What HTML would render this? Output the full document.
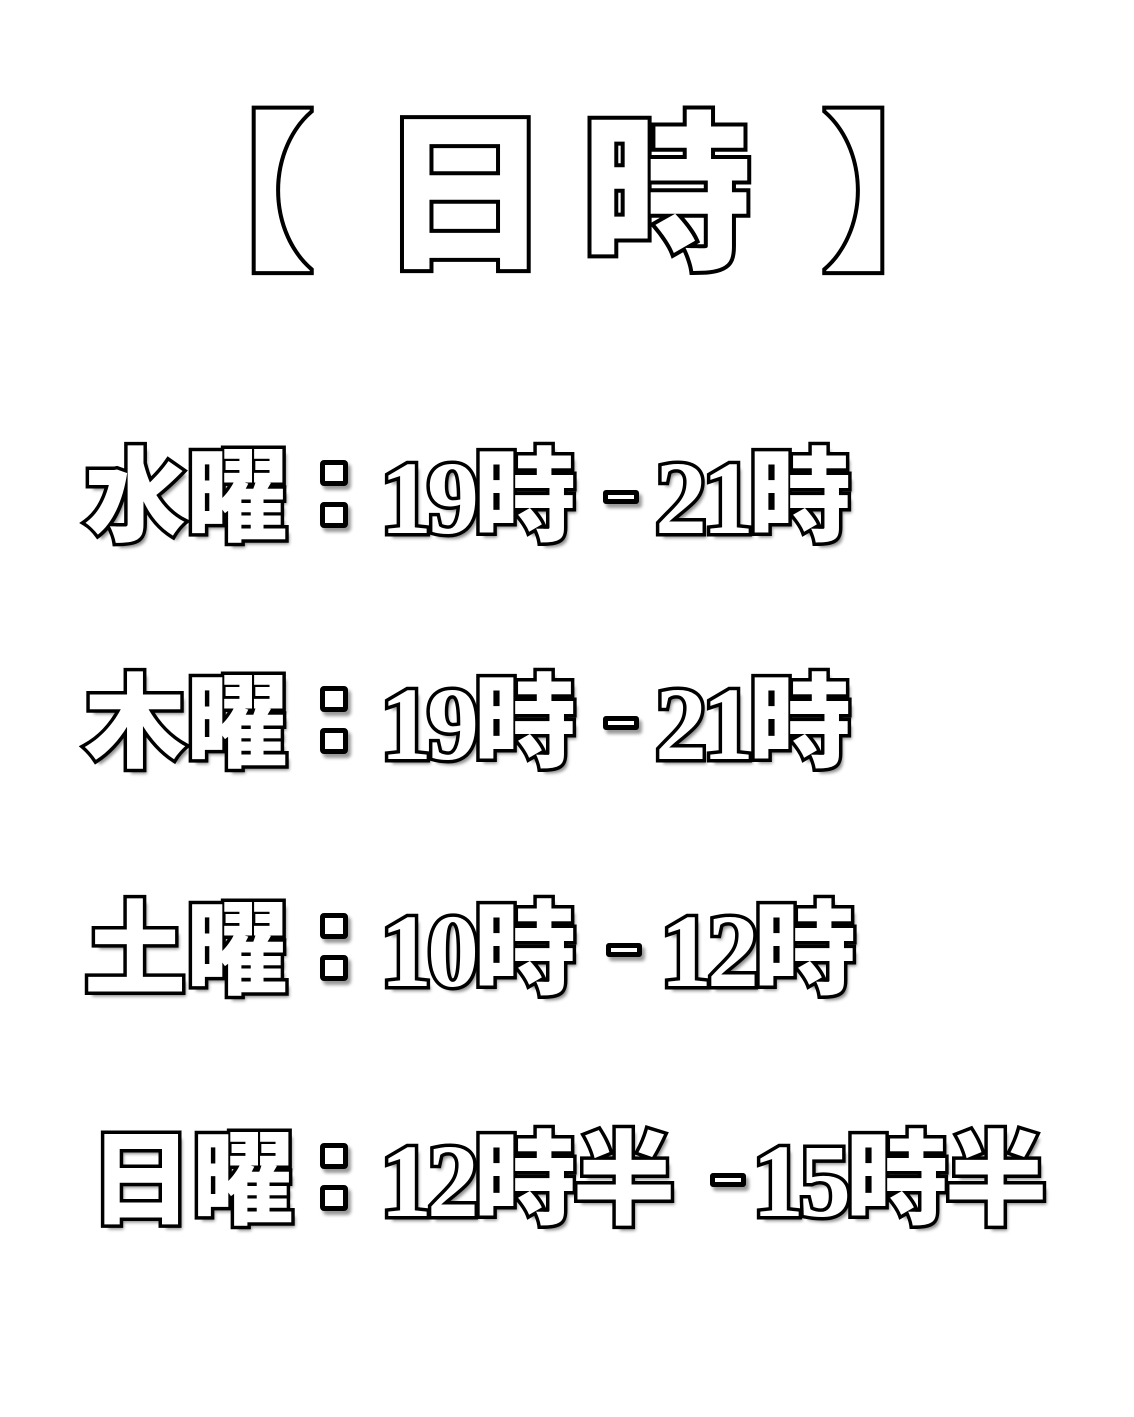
<!DOCTYPE html>
<html><head><meta charset="utf-8"><style>
html,body{margin:0;padding:0;background:#fff;}
body{width:1134px;height:1417px;position:relative;overflow:hidden;}
.t{position:absolute;white-space:nowrap;font-family:"Liberation Sans","Noto Sans CJK JP",sans-serif;font-weight:900;color:#fff;
-webkit-text-stroke:7px #000;paint-order:stroke fill;text-shadow:4px 5px 3px rgba(0,0,0,0.45);}
.b{font-size:102px;line-height:100px;}
.d{letter-spacing:-3px;}
.n{font-family:"Liberation Serif",serif;font-weight:bold;font-size:104px;letter-spacing:-5px;}
.h{font-size:170px;line-height:170px;-webkit-text-stroke:8px #000;text-shadow:none;}
.sq{position:absolute;width:18px;height:16px;border:5px solid #000;border-radius:4px;background:#fff;box-shadow:3px 4px 3px rgba(0,0,0,0.4);}
.hy{position:absolute;width:26px;height:4px;border:5px solid #000;border-radius:3px;background:#fff;box-shadow:3px 4px 3px rgba(0,0,0,0.4);}
</style></head><body>
<div class="t h" style="left:144px;top:112px;">【</div>
<div class="t h" style="left:380px;top:112px;">日</div>
<div class="t h" style="left:582px;top:112px;">時</div>
<div class="t h" style="left:822px;top:112px;">】</div>

<div class="t b" style="left:84px;top:448px;">水曜</div>
<div class="sq" style="left:320px;top:460px;"></div><div class="sq" style="left:320px;top:502px;"></div>
<div class="t b d" style="left:380px;top:448px;"><span class="n">19</span>時</div>
<div class="hy" style="left:603px;top:490px;"></div>
<div class="t b d" style="left:655px;top:448px;"><span class="n">21</span>時</div>

<div class="t b" style="left:84px;top:674px;">木曜</div>
<div class="sq" style="left:320px;top:686px;"></div><div class="sq" style="left:320px;top:728px;"></div>
<div class="t b d" style="left:380px;top:674px;"><span class="n">19</span>時</div>
<div class="hy" style="left:603px;top:716px;"></div>
<div class="t b d" style="left:655px;top:674px;"><span class="n">21</span>時</div>

<div class="t b" style="left:84px;top:901px;">土曜</div>
<div class="sq" style="left:320px;top:913px;"></div><div class="sq" style="left:320px;top:955px;"></div>
<div class="t b d" style="left:380px;top:901px;"><span class="n">10</span>時</div>
<div class="hy" style="left:606px;top:943px;"></div>
<div class="t b d" style="left:660px;top:901px;"><span class="n">12</span>時</div>

<div class="t b" style="left:90px;top:1131px;">日曜</div>
<div class="sq" style="left:320px;top:1143px;"></div><div class="sq" style="left:320px;top:1185px;"></div>
<div class="t b d" style="left:380px;top:1131px;"><span class="n">12</span>時半</div>
<div class="hy" style="left:710px;top:1173px;"></div>
<div class="t b d" style="left:752px;top:1131px;"><span class="n">15</span>時半</div>
</body></html>
